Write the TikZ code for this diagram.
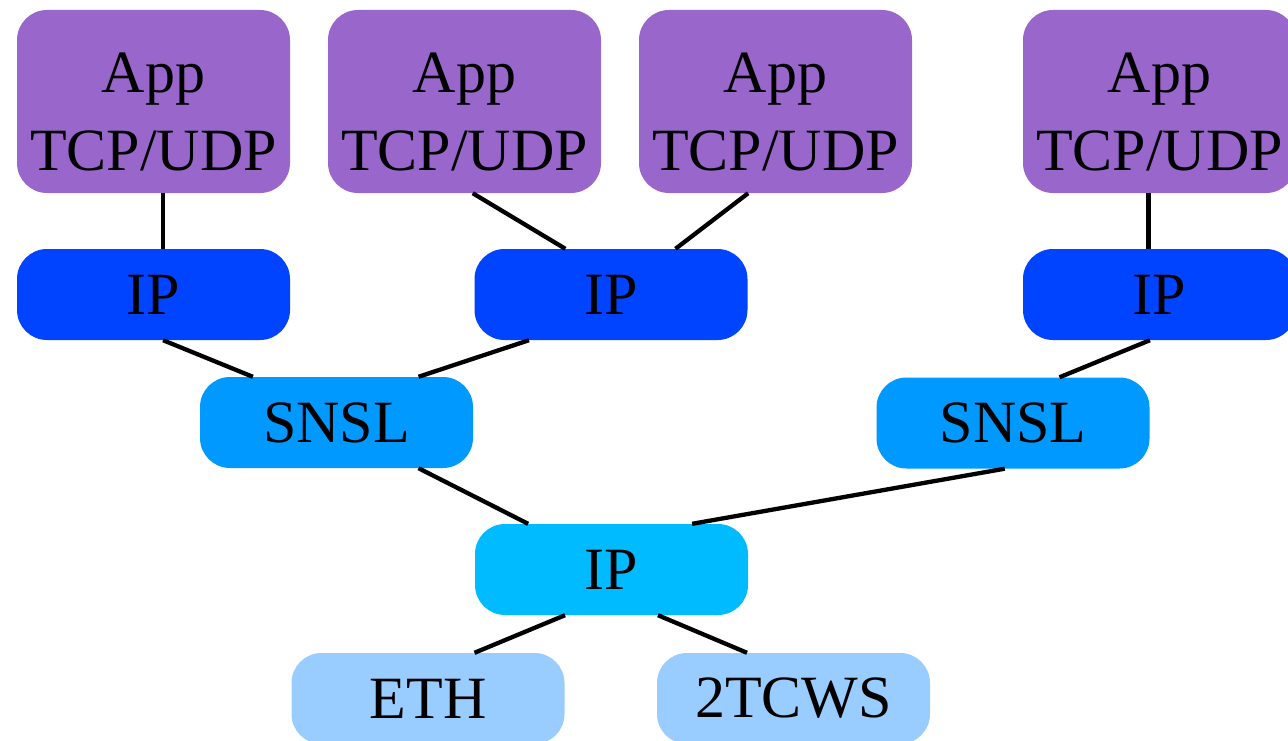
\documentclass[tikz,border=0pt]{standalone}
\usepackage{fontspec}
\setmainfont{Liberation Serif}
\usetikzlibrary{calc}
\definecolor{appcol}{HTML}{9966CC}
\definecolor{ipcol}{HTML}{0044FF}
\definecolor{snslcol}{HTML}{0099FF}
\definecolor{ipbcol}{HTML}{00BBFF}
\definecolor{linkcol}{HTML}{99CCFF}
\tikzset{
  layer/.style={rectangle, rounded corners=30pt, minimum width=273pt,
    minimum height=91pt, inner sep=0pt, align=center,
    font=\fontsize{60}{71}\selectfont},
  appbox/.style={layer, fill=appcol, minimum height=183pt},
  ipbox/.style={layer, fill=ipcol},
  snslbox/.style={layer, fill=snslcol},
  ipbbox/.style={layer, fill=ipbcol},
  linkbox/.style={layer, fill=linkcol},
  edge/.style={draw=black, line width=4.3pt}
}
% two-line stack label, set a little below the box centre
\newcommand\stacklabel{\rule{0pt}{60pt}App\\[7pt]TCP/UDP}
% connect bottom of #1 (fraction #2 along its width) to top of #3 (fraction #4)
\newcommand\joinboxes[4]{%
  \draw[edge] ($(#1.south west)!#2!(#1.south east)$) -- ($(#3.north west)!#4!(#3.north east)$);}
\begin{document}
\begin{tikzpicture}[x=1pt,y=-1pt]
\clip (0,0) rectangle (1288,741);
\useasboundingbox (0,0) rectangle (1288,741);

% application stacks
\node[appbox] (app1) at (153.5,101.5) {\stacklabel};
\node[appbox] (app2) at (464.5,101.5) {\stacklabel};
\node[appbox] (app3) at (775.5,101.5) {\stacklabel};
\node[appbox] (app4) at (1159.5,101.5) {\stacklabel};

% upper IP layers
\node[ipbox] (ip1) at (153.5,294.5) {IP};
\node[ipbox] (ip2) at (611,294.5) {IP};
\node[ipbox] (ip3) at (1159.5,294.5) {IP};

% SNSL layers
\node[snslbox] (snsl1) at (336.5,422.5) {SNSL};
\node[snslbox] (snsl2) at (1013,423) {SNSL};

% lower IP layer
\node[ipbbox] (ipb) at (611.5,569.5) {IP};

% link layers
\node[linkbox] (eth) at (428,698.5) {ETH};
\node[linkbox] (tcws) at (793.5,698.5) {2TCWS};

% connectors
\joinboxes{app1}{0.535}{ip1}{0.535}
\joinboxes{app2}{0.53}{ip2}{0.333}
\joinboxes{app3}{0.4}{ip2}{0.736}
\joinboxes{app4}{0.46}{ip3}{0.46}
\joinboxes{ip1}{0.535}{snsl1}{0.194}
\joinboxes{ip2}{0.2}{snsl1}{0.8}
\joinboxes{ip3}{0.465}{snsl2}{0.67}
\joinboxes{snsl1}{0.8}{ipb}{0.195}
\joinboxes{snsl2}{0.47}{ipb}{0.795}
\joinboxes{ipb}{0.33}{eth}{0.67}
\joinboxes{ipb}{0.67}{tcws}{0.33}
\end{tikzpicture}
\end{document}
